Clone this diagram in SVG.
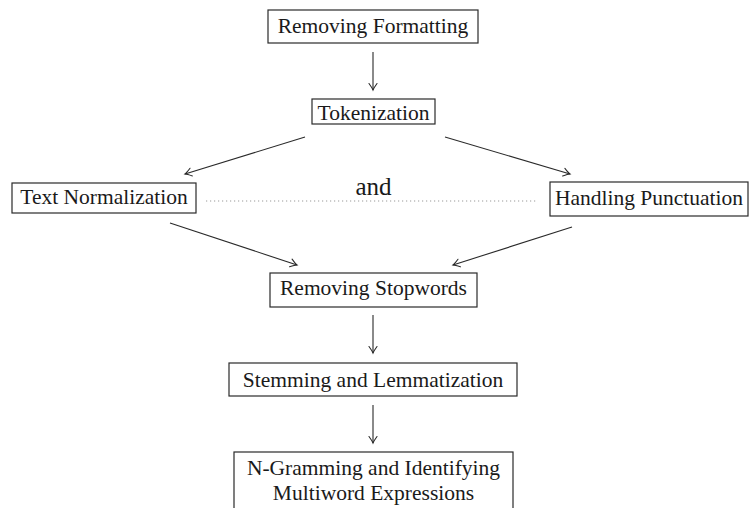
<svg xmlns="http://www.w3.org/2000/svg" width="750" height="508" viewBox="0 0 750 508">
  <style>
    .box { fill: #ffffff; stroke: #2a2a2a; stroke-width: 1.2; }
    .lbl { font-family: "Liberation Serif", "Times New Roman", serif; font-size: 21.5px; fill: #1a1a1a; text-anchor: middle; }
    .big { font-family: "Liberation Serif", "Times New Roman", serif; font-size: 25px; fill: #1a1a1a; text-anchor: middle; }
    .edge { fill: none; stroke: #2a2a2a; stroke-width: 1.1; }
    .dots { fill: none; stroke: #9a9a9a; stroke-width: 1.2; stroke-dasharray: 1.2 2.8; }
  </style>
  <defs>
    <marker id="arr" markerUnits="userSpaceOnUse" markerWidth="12" markerHeight="12" viewBox="-8 -6 10 12" refX="0" refY="0" orient="auto">
      <path d="M-6.5,-4 Q-2,-0.8 0,0 Q-2,0.8 -6.5,4" fill="none" stroke="#2a2a2a" stroke-width="1.1" stroke-linecap="round"/>
    </marker>
  </defs>
  <rect width="750" height="508" fill="#ffffff"/>

  <g id="connectors">
    <line class="edge" x1="373" y1="52" x2="373" y2="90" marker-end="url(#arr)"/>
    <line class="edge" x1="305" y1="137" x2="185" y2="174" marker-end="url(#arr)"/>
    <line class="edge" x1="445" y1="137" x2="570" y2="174" marker-end="url(#arr)"/>
    <line class="edge" x1="170" y1="223" x2="297" y2="265" marker-end="url(#arr)"/>
    <line class="edge" x1="572" y1="227" x2="453" y2="265" marker-end="url(#arr)"/>
    <line class="edge" x1="373" y1="315" x2="373" y2="353" marker-end="url(#arr)"/>
    <line class="edge" x1="373" y1="405" x2="373" y2="443" marker-end="url(#arr)"/>
    <line class="dots" x1="206" y1="201" x2="538" y2="201"/>
    <text class="big" x="373.5" y="195">and</text>
  </g>

  <g id="removing-formatting">
    <rect class="box" x="268" y="10" width="210" height="33"/>
    <text class="lbl" x="373" y="33">Removing Formatting</text>
  </g>
  <g id="tokenization">
    <rect class="box" x="312" y="99" width="123" height="25"/>
    <text class="lbl" x="373.5" y="120">Tokenization</text>
  </g>
  <g id="text-normalization">
    <rect class="box" x="12" y="183" width="184" height="30"/>
    <text class="lbl" x="104" y="204">Text Normalization</text>
  </g>
  <g id="handling-punctuation">
    <rect class="box" x="550" y="182" width="198" height="34"/>
    <text class="lbl" x="649" y="205">Handling Punctuation</text>
  </g>
  <g id="removing-stopwords">
    <rect class="box" x="270" y="273" width="207" height="34"/>
    <text class="lbl" x="373.5" y="295">Removing Stopwords</text>
  </g>
  <g id="stemming-lemmatization">
    <rect class="box" x="229" y="363" width="288" height="33"/>
    <text class="lbl" x="373" y="387">Stemming and Lemmatization</text>
  </g>
  <g id="ngramming">
    <rect class="box" x="234" y="452" width="279" height="70"/>
    <text class="lbl" x="373.5" y="475">N-Gramming and Identifying</text>
    <text class="lbl" x="373.5" y="500">Multiword Expressions</text>
  </g>
</svg>
